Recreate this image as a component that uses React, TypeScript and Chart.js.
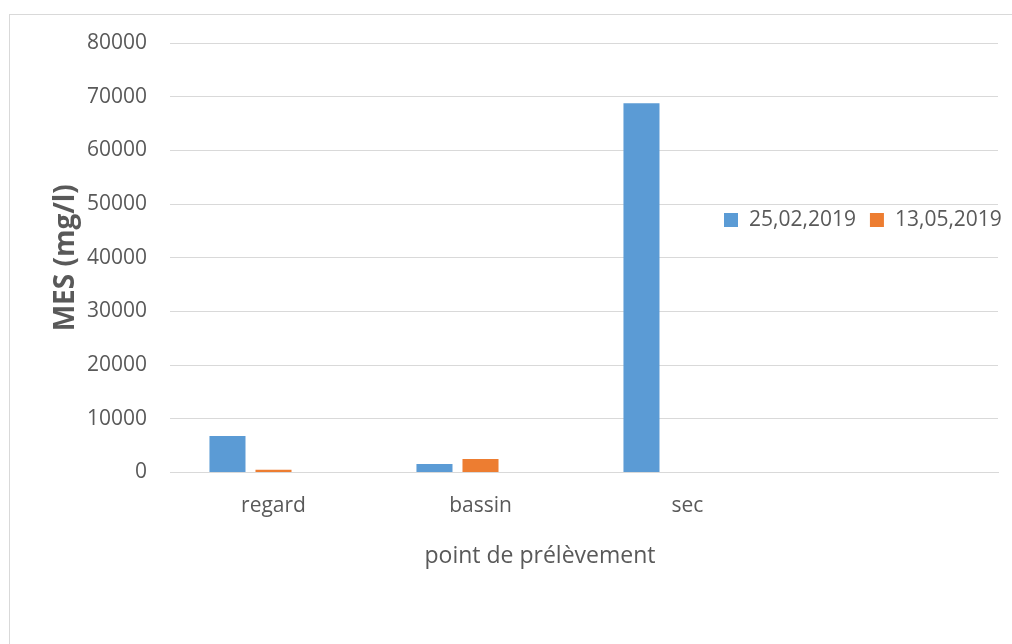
import React, { useEffect, useRef } from "react";
import { Chart, registerables } from "chart.js";

Chart.register(...registerables);

const categories = ["regard", "bassin", "sec", ""];
const seriesNames = ["25,02,2019", "13,05,2019"];
const seriesA = [6800, 1600, 68800, null];
const seriesB = [500, 2500, 0, null];
const seriesC = [null, null, null, null];
const colors = ["#5B9BD5", "#ED7D31"];
const yTicks = [0, 10000, 20000, 30000, 40000, 50000, 60000, 70000, 80000];
const xTitle = "point de prélèvement";
const yTitle = "MES (mg/l)";

const FONT = "'Open Sans', 'DejaVu Sans', sans-serif";
const TEXT = "#595959";

const framePlugin = {
  id: "frame",
  beforeDraw(chart: any) {
    const ctx = chart.ctx;
    ctx.save();
    ctx.fillStyle = "#ffffff";
    ctx.fillRect(0, 0, chart.width, chart.height);
    ctx.strokeStyle = "#d9d9d9";
    ctx.lineWidth = 1;
    ctx.strokeRect(9.5, 14.5, chart.width + 20, chart.height + 20);
    ctx.restore();
  },
};

const legendPlugin = {
  id: "customLegend",
  afterDraw(chart: any) {
    const ctx = chart.ctx;
    ctx.save();
    // x-axis title
    ctx.font = `23px ${FONT}`;
    ctx.fillStyle = TEXT;
    ctx.textAlign = "center";
    ctx.textBaseline = "middle";
    ctx.fillText(xTitle, 540, 556);
    // legend
    ctx.font = `21px ${FONT}`;
    ctx.textBaseline = "middle";
    ctx.textAlign = "left";
    const cy = 220;
    let x = 724;
    seriesNames.forEach((name, i) => {
      ctx.fillStyle = colors[i];
      ctx.fillRect(x, cy - 7, 14, 14);
      ctx.fillStyle = TEXT;
      ctx.fillText(name, x + 25, cy);
      x += 25 + ctx.measureText(name).width + 14;
    });
    ctx.restore();
  },
};

export default function App() {
  const ref = useRef<HTMLCanvasElement | null>(null);

  useEffect(() => {
    if (!ref.current) return;
    const common = { categoryPercentage: 0.667, barPercentage: 0.783 };
    const chart = new Chart(ref.current, {
      type: "bar",
      data: {
        labels: categories,
        datasets: [
          { label: seriesNames[0], data: seriesA, backgroundColor: colors[0], ...common },
          { label: seriesNames[1], data: seriesB, backgroundColor: colors[1], ...common },
          { label: "", data: seriesC, backgroundColor: "#A5A5A5", ...common },
        ],
      },
      options: {
        animation: false,
        responsive: true,
        maintainAspectRatio: false,
        layout: { padding: { left: 0, right: 14, top: 43, bottom: 0 } },
        plugins: {
          legend: { display: false },
          title: { display: false },
          tooltip: { enabled: false },
        },
        scales: {
          x: {
            grid: { display: false, drawTicks: false },
            border: { display: true, color: "#d9d9d9" },
            ticks: {
              color: TEXT,
              font: { family: FONT, size: 21 },
              padding: 21,
              maxRotation: 0,
            },
            title: { display: false },
            afterFit(scale: any) {
              scale.height = 171.5;
            },
          },
          y: {
            min: 0,
            max: 80000,
            afterBuildTicks(scale: any) {
              scale.ticks = yTicks.map((v) => ({ value: v }));
            },
            grid: { color: "#d9d9d9", drawTicks: false, lineWidth: 1 },
            border: { display: false },
            ticks: {
              color: TEXT,
              font: { family: FONT, size: 21 },
              padding: 23,
              callback: (v: any) => String(v),
            },
            title: {
              display: true,
              text: yTitle,
              color: TEXT,
              font: { family: FONT, size: 28, weight: "bold" },
              padding: { top: 49, bottom: 0 },
            },
            afterFit(scale: any) {
              scale.width = 170;
            },
          },
        },
      },
      plugins: [framePlugin, legendPlugin],
    });
    return () => chart.destroy();
  }, []);

  return (
    <div style={{ position: "absolute", left: 0, top: 0, width: 1012, height: 644 }}>
      <canvas ref={ref} />
    </div>
  );
}
